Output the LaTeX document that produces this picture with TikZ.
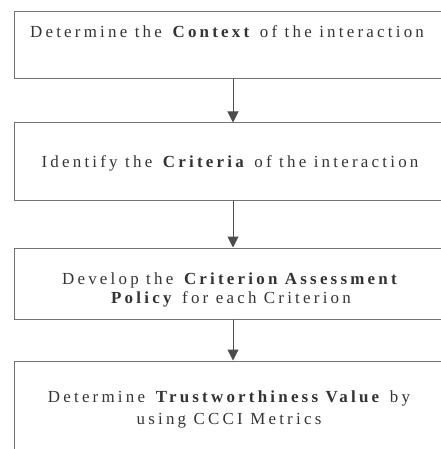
\documentclass[tikz,border=0pt]{standalone}
\usepackage{fontspec}
\setmainfont{Liberation Serif}[LetterSpace=19]
\usetikzlibrary{arrows.meta}

\tikzset{
  stepbox/.style={draw=black!55, line width=1bp, minimum width=436bp, inner sep=0pt},
  steptext/.style={text=black!80, font=\fontsize{17}{19}\selectfont, align=center, inner sep=0pt},
  flow/.style={draw=black!70, line width=1bp, -{Triangle[length=11bp,width=11bp]}}
}

\begin{document}
\begin{tikzpicture}[x=1bp, y=-1bp]
\useasboundingbox (0,0) rectangle (441,449);
\clip (0,0) rectangle (441,449);
% boxes
\node[stepbox, minimum height=67bp] (context) at (233,45.5) {};
\node[stepbox, minimum height=77bp] (criteria) at (233,161.5) {};
\node[stepbox, minimum height=71bp] (policy) at (233,283.5) {};
\node[stepbox, minimum height=109bp] (value) at (233,415.5) {};
% texts
\node[steptext, anchor=base] (contexttext) at (227,38) {Determine the \textbf{Context} of the interaction};
\node[steptext, anchor=base] (criteriatext) at (230,168) {Identify the \textbf{Criteria} of the interaction};
\node[steptext] (policytext) at (231,290) {Develop the \textbf{Criterion Assessment}\\ \textbf{Policy} for each Criterion};
\node[steptext, font=\fontsize{17}{22}\selectfont] (valuetext) at (229,409) {Determine \textbf{Trustworthiness Value} by\\ using CCCI Metrics};
% arrows
\draw[flow] (context) -- (criteria);
\draw[flow] (criteria) -- (policy);
\draw[flow] (policy) -- (value);
\end{tikzpicture}
\end{document}
